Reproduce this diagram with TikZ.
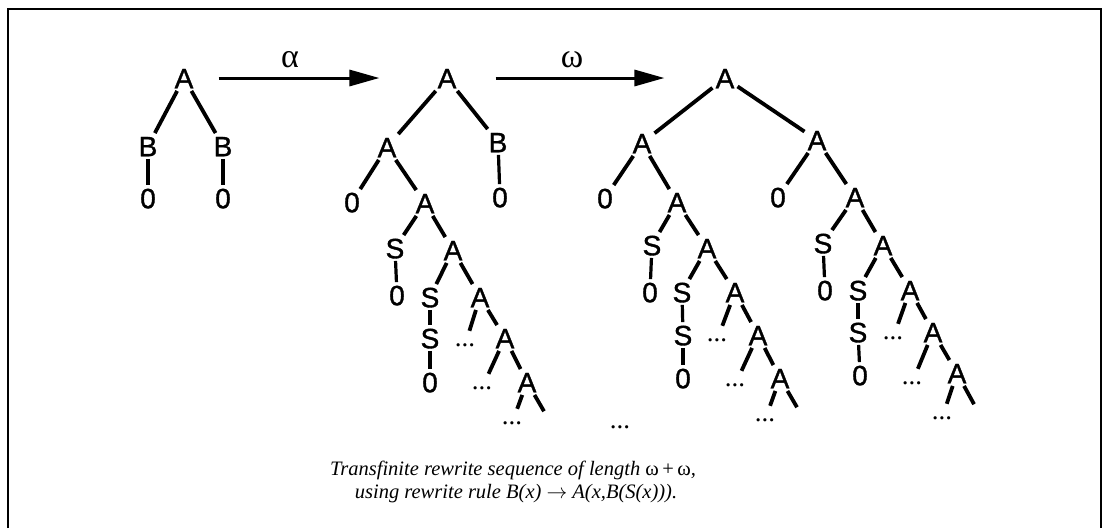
\documentclass[tikz,border=0pt]{standalone}
\usepackage{fontspec}
\setmainfont{Liberation Serif}
\newfontfamily\treefont[FakeBold=1.2]{Liberation Sans}
\usetikzlibrary{arrows.meta}
\begin{document}
\begin{tikzpicture}[x=1pt,y=-1pt,
  lbl/.style={rectangle,inner xsep=3pt,inner ysep=2.5pt,text height=20.5pt,text depth=0pt,font=\treefont\fontsize{28}{28}\selectfont},
  dts/.style={rectangle,inner sep=0pt,minimum height=28pt,minimum width=20pt,font=\fontsize{27}{27}\selectfont},
  branch/.style={line width=3.8pt},
  stem/.style={line width=3.2pt},
  bigarrow/.style={line width=3pt,-{Triangle[length=30pt,width=16pt]}},
  steplabel/.style={inner sep=0pt,font=\fontsize{34}{34}\selectfont},
  caption/.style={inner sep=0pt,font=\itshape\fontsize{20.5}{20.5}\selectfont}
]
\useasboundingbox (0,0) rectangle (1106,528);
% open frame
\draw[line width=2pt] (8,528) -- (8,9) -- (1101,9) -- (1101,528);

% ---------- initial term A(B(0),B(0)) ----------
\node[lbl] (a1) at (184,78) {A};
\node[lbl] (a1b1) at (148,146) {B};
\node[lbl] (a1b2) at (223,146) {B};
\node[lbl] (a1z1) at (148,198) {0};
\node[lbl] (a1z2) at (223,198) {0};
\draw[branch] (a1) -- (a1b1);
\draw[branch] (a1) -- (a1b2);
\draw[stem] (a1b1) -- (a1z1);
\draw[stem] (a1b2) -- (a1z2);

% ---------- after omega steps ----------
\node[lbl] (m1) at (447,78) {A};
\node[lbl] (m2) at (387,147) {A};
\node[lbl] (m3) at (498,142) {B};
\node[lbl] (m4) at (352,202) {0};
\node[lbl] (m5) at (500,197) {0};
\node[lbl] (m6) at (425,203) {A};
\node[lbl] (m7) at (395,248) {S};
\node[lbl] (m8) at (453,250) {A};
\node[lbl] (m9) at (397,295) {0};
\node[lbl] (m10) at (430,297) {S};
\node[lbl] (m11) at (480,297) {A};
\node[lbl] (m12) at (430,338) {S};
\node[dts] (m13) at (465,345) {...};
\node[lbl] (m14) at (505,338) {A};
\node[lbl] (m15) at (430,382) {0};
\node[dts] (m16) at (482,388) {...};
\node[lbl] (m17) at (527,382) {A};
\node[dts] (m18) at (512,423) {...};
\coordinate (m19) at (545,413);
\draw[branch] (m1) -- (m2);
\draw[branch] (m1) -- (m3);
\draw[stem] (m3) -- (m5);
\draw[branch] (m2) -- (m4);
\draw[branch] (m2) -- (m6);
\draw[branch] (m6) -- (m7);
\draw[branch] (m6) -- (m8);
\draw[stem] (m7) -- (m9);
\draw[branch] (m8) -- (m10);
\draw[branch] (m8) -- (m11);
\draw[stem] (m10) -- (m12);
\draw[stem] (m12) -- (m15);
\draw[branch] (m11) -- (m13);
\draw[branch] (m11) -- (m14);
\draw[branch] (m14) -- (m16);
\draw[branch] (m14) -- (m17);
\draw[branch] (m17) -- (m18);
\draw[branch,shorten >=2pt] (m17) -- (m19);

% ---------- after omega+omega steps ----------
\node[lbl] (r1) at (725,78) {A};
\node[lbl] (p1) at (642,143) {A};
\node[lbl] (q1) at (817,140) {A};
\draw[branch] (r1) -- (p1);
\draw[branch] (r1) -- (q1);

% left subtree
\node[lbl] (p2) at (605,198) {0};
\node[lbl] (p3) at (677,202) {A};
\node[lbl] (p4) at (652,245) {S};
\node[lbl] (p5) at (707,248) {A};
\node[lbl] (p6) at (650,292) {0};
\node[lbl] (p7) at (682,292) {S};
\node[lbl] (p8) at (735,292) {A};
\node[lbl] (p9) at (683,335) {S};
\node[dts] (p10) at (717,340) {...};
\node[lbl] (p11) at (758,335) {A};
\node[lbl] (p12) at (683,378) {0};
\node[dts] (p13) at (735,385) {...};
\node[lbl] (p14) at (780,378) {A};
\node[dts] (p15) at (765,420) {...};
\coordinate (p16) at (798,409);
\draw[branch] (p1) -- (p2);
\draw[branch] (p1) -- (p3);
\draw[branch] (p3) -- (p4);
\draw[branch] (p3) -- (p5);
\draw[stem] (p4) -- (p6);
\draw[branch] (p5) -- (p7);
\draw[branch] (p5) -- (p8);
\draw[stem] (p7) -- (p9);
\draw[stem] (p9) -- (p12);
\draw[branch] (p8) -- (p10);
\draw[branch] (p8) -- (p11);
\draw[branch] (p11) -- (p13);
\draw[branch] (p11) -- (p14);
\draw[branch] (p14) -- (p15);
\draw[branch,shorten >=2pt] (p14) -- (p16);

% right subtree
\node[lbl] (q2) at (778,197) {0};
\node[lbl] (q3) at (855,197) {A};
\node[lbl] (q4) at (823,243) {S};
\node[lbl] (q5) at (883,245) {A};
\node[lbl] (q6) at (825,290) {0};
\node[lbl] (q7) at (858,290) {S};
\node[lbl] (q8) at (910,290) {A};
\node[lbl] (q9) at (858,332) {S};
\node[dts] (q10) at (893,338) {...};
\node[lbl] (q11) at (933,332) {A};
\node[lbl] (q12) at (860,375) {0};
\node[dts] (q13) at (912,383) {...};
\node[lbl] (q14) at (957,373) {A};
\node[dts] (q15) at (942,418) {...};
\coordinate (q16) at (975,406);
\draw[branch] (q1) -- (q2);
\draw[branch] (q1) -- (q3);
\draw[branch] (q3) -- (q4);
\draw[branch] (q3) -- (q5);
\draw[stem] (q4) -- (q6);
\draw[branch] (q5) -- (q7);
\draw[branch] (q5) -- (q8);
\draw[stem] (q7) -- (q9);
\draw[stem] (q9) -- (q12);
\draw[branch] (q8) -- (q10);
\draw[branch] (q8) -- (q11);
\draw[branch] (q11) -- (q13);
\draw[branch] (q11) -- (q14);
\draw[branch] (q14) -- (q15);
\draw[branch,shorten >=2pt] (q14) -- (q16);

\node[dts] (gap) at (620,427) {...};

% ---------- rewrite steps ----------
\draw[bigarrow,shorten <=22pt,shorten >=55pt] (a1) -- (m1);
\draw[bigarrow,shorten <=36pt,shorten >=48pt] (m1) -- (r1);
\node[steplabel] (s1) at (290,60) {α};
\node[steplabel] (s2) at (572,60) {ω};

% ---------- caption ----------
\node[caption,anchor=base] (cap1) at (513,475) {Transfinite rewrite sequence of length {\upshape ω\,+\,ω},};
\node[caption,anchor=base] (cap2) at (516,498) {using rewrite rule B(x) $\rightarrow$ A(x,B(S(x))).};
\end{tikzpicture}
\end{document}
